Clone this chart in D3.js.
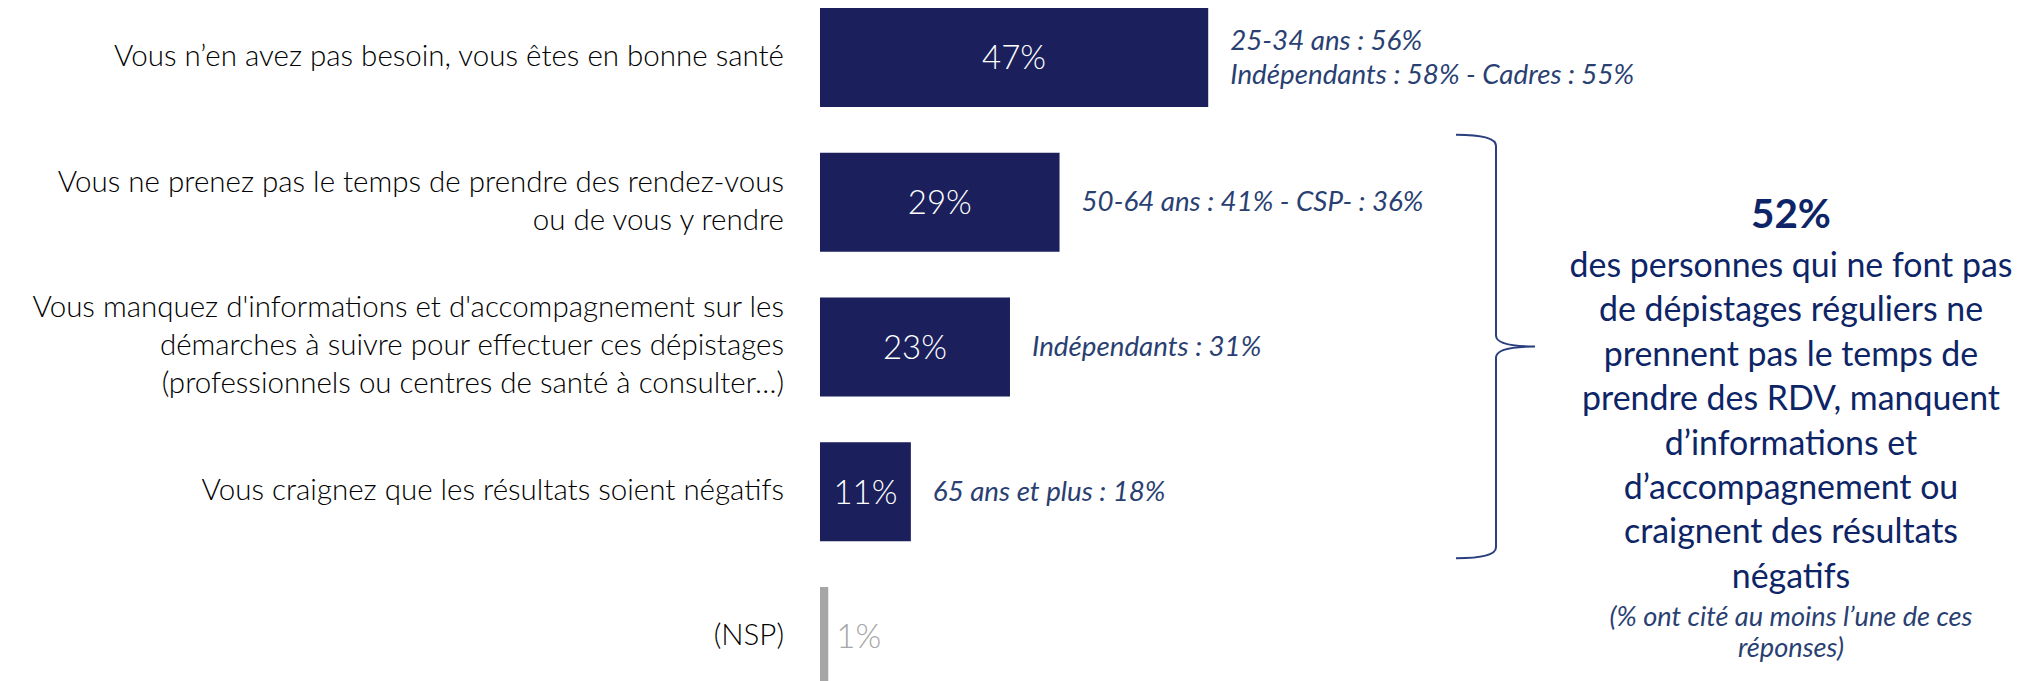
<!DOCTYPE html>
<html>
<head>
<meta charset="utf-8">
<script src="https://cdn.jsdelivr.net/npm/d3@7"></script>
<style>
  html, body { margin: 0; padding: 0; background: #fff; }
  svg { display: block; }
</style>
</head>
<body>
<script>
// values
const categories = [
  "Vous n’en avez pas besoin, vous êtes en bonne santé",
  "Vous ne prenez pas le temps de prendre des rendez-vous\nou de vous y rendre",
  "Vous manquez d'informations et d'accompagnement sur les\ndémarches à suivre pour effectuer ces dépistages\n(professionnels ou centres de santé à consulter…)",
  "Vous craignez que les résultats soient négatifs",
  "(NSP)"
];
const values = [47, 29, 23, 11, 1];
const subgroups = [
  ["25-34 ans : 56%", "Indépendants : 58% - Cadres : 55%"],
  ["50-64 ans : 41% - CSP- : 36%"],
  ["Indépendants : 31%"],
  ["65 ans et plus : 18%"],
  []
];
const summaryValue = "52%";
const summaryLines = [
  "des personnes qui ne font pas",
  "de dépistages réguliers ne",
  "prennent pas le temps de",
  "prendre des RDV, manquent",
  "d’informations et",
  "d’accompagnement ou",
  "craignent des résultats",
  "négatifs"
];
const summaryNote = ["(% ont cité au moins l’une de ces", "réponses)"];

const width = 2042;
const height = 681;
const navy = "#1b1f5c";
const textBlue = "#2a3f72";
const darkBlue = "#0d2566";
const grey = "#a6a6a6";
const font = "Lato";

// pick a font size so that a string takes the width it has in the picture
const ctx = document.createElement("canvas").getContext("2d");
function fitSize(str, target, weight, style) {
  ctx.font = `${style || "normal"} ${weight} 100px ${font}`;
  return 100 * target / ctx.measureText(str).width;
}

const labelSize = fitSize(categories[0], 671, 300);
const valueSize = fitSize("47%", 64, 300);
const subSize = fitSize(subgroups[0][1], 404, 400, "italic");
const bigSize = fitSize(summaryValue, 80, 700);
const paraSize = fitSize(summaryLines[0], 443, 400);
const noteSize = fitSize(summaryNote[0], 363, 400, "italic");

const svg = d3.select("body").append("svg")
  .attr("width", width)
  .attr("height", height)
  .style("font-family", font);

const x = d3.scaleLinear().domain([0, 100]).range([820, 1646]);
const y = d3.scaleBand()
  .domain(categories)
  .range([8, 686])
  .paddingInner(0.316)
  .paddingOuter(0);
const bw = y.bandwidth();
const isNsp = d => d === "(NSP)";

const rows = categories.map((c, i) => ({ cat: c, value: values[i], subs: subgroups[i] }));

// category labels
svg.selectAll("text.cat")
  .data(rows)
  .enter()
  .append("text")
  .attr("class", "cat")
  .attr("text-anchor", "end")
  .attr("font-size", labelSize)
  .attr("font-weight", 300)
  .attr("fill", "#000")
  .each(function (d) {
    const lines = d.cat.split("\n");
    const cy = y(d.cat) + bw / 2;
    const lh = 38;
    d3.select(this).selectAll("tspan")
      .data(lines)
      .enter()
      .append("tspan")
      .attr("x", 784)
      .attr("y", (l, j) => cy - (lines.length - 1) * lh / 2 + j * lh + 0.28 * labelSize)
      .text(l => l);
  });

// bars
svg.selectAll("rect.bar")
  .data(rows)
  .enter()
  .append("rect")
  .attr("class", "bar")
  .attr("x", x(0))
  .attr("y", d => y(d.cat))
  .attr("width", d => x(d.value) - x(0))
  .attr("height", bw)
  .attr("fill", d => isNsp(d.cat) ? grey : navy);

// value labels
svg.selectAll("text.val")
  .data(rows)
  .enter()
  .append("text")
  .attr("class", "val")
  .attr("x", d => isNsp(d.cat) ? x(d.value) + 8 : (x(0) + x(d.value)) / 2)
  .attr("y", d => y(d.cat) + bw / 2 + 0.36 * valueSize)
  .attr("text-anchor", d => isNsp(d.cat) ? "start" : "middle")
  .attr("font-size", valueSize)
  .attr("font-weight", 300)
  .attr("fill", d => isNsp(d.cat) ? grey : "#fff")
  .text(d => d.value + "%");

// sub-group highlights next to the bars
svg.selectAll("text.sub")
  .data(rows.filter(d => d.subs.length))
  .enter()
  .append("text")
  .attr("class", "sub")
  .attr("font-size", subSize)
  .attr("font-style", "italic")
  .attr("font-weight", 400)
  .attr("fill", textBlue)
  .each(function (d) {
    const cy = y(d.cat) + bw / 2;
    const lh = 34;
    d3.select(this).selectAll("tspan")
      .data(d.subs)
      .enter()
      .append("tspan")
      .attr("x", x(d.value) + 22)
      .attr("y", (l, j) => cy - (d.subs.length - 1) * lh / 2 + j * lh + 0.33 * subSize)
      .text(l => l);
  });

// brace grouping rows 2 to 4
const bTop = y(categories[1]) - 18;
const bBot = y(categories[3]) + bw + 17;
const bMid = (bTop + bBot) / 2;
const bx = 1496, bl = 1456, tip = 1535, r = 11;
const brace = d3.path();
brace.moveTo(bl, bTop);
brace.quadraticCurveTo(bx, bTop, bx, bTop + r);
brace.lineTo(bx, bMid - r);
brace.quadraticCurveTo(bx, bMid, tip, bMid);
brace.quadraticCurveTo(bx, bMid, bx, bMid + r);
brace.lineTo(bx, bBot - r);
brace.quadraticCurveTo(bx, bBot, bl, bBot);
svg.append("path")
  .attr("d", brace.toString())
  .attr("fill", "none")
  .attr("stroke", "#2a3f7e")
  .attr("stroke-width", 2);

// summary block
const cx = 1791;
svg.append("text")
  .attr("x", cx)
  .attr("y", 228)
  .attr("text-anchor", "middle")
  .attr("font-size", bigSize)
  .attr("font-weight", 700)
  .attr("fill", darkBlue)
  .text(summaryValue);

svg.append("g")
  .selectAll("text")
  .data(summaryLines)
  .enter()
  .append("text")
  .attr("x", cx)
  .attr("y", (d, i) => 277 + i * 44.4)
  .attr("text-anchor", "middle")
  .attr("font-size", paraSize)
  .attr("fill", darkBlue)
  .text(d => d);

svg.append("g")
  .selectAll("text")
  .data(summaryNote)
  .enter()
  .append("text")
  .attr("x", cx)
  .attr("y", (d, i) => 626 + i * 31)
  .attr("text-anchor", "middle")
  .attr("font-size", noteSize)
  .attr("font-style", "italic")
  .attr("font-weight", 400)
  .attr("fill", textBlue)
  .text(d => d);
</script>
</body>
</html>
